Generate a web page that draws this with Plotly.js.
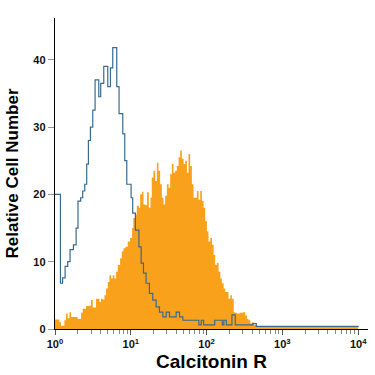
<!DOCTYPE html>
<html>
<head>
<meta charset="utf-8">
<script src="https://cdn.plot.ly/plotly-3.0.1.min.js"></script>
<style>html,body{margin:0;padding:0;background:#fff;}#chart{width:375px;height:375px;}</style>
</head>
<body>
<div id="chart"></div>
<script>
// Calcitonin R stained cells (filled orange histogram)
var stainedX = [1.00,1.14,1.20,1.33,1.40,1.47,1.55,1.63,1.80,1.99,2.21,2.32,2.57,2.84,2.99,3.15,3.48,3.85,4.05,4.27,4.49,4.72,4.97,5.23,5.50,5.78,6.08,6.40,6.73,7.23,7.60,8.00,8.50,9.13,9.80,10.4,10.8,11.4,12.0,12.8,13.3,14.1,14.7,15.6,16.4,17.3,18.2,18.9,19.9,21.0,22.1,23.2,24.4,25.7,27.0,28.4,29.9,31.5,33.1,34.8,36.6,38.5,40.5,42.7,44.9,47.2,49.7,52.3,55.0,57.8,60.8,64.0,67.3,70.8,74.5,78.4,82.5,86.8,91.3,96.0,101,106,112,118,124,130,137,144,152,159,168,176,186,195,206,216,228,239,252,273,302,324,341,359,378,397,418,453,10000];
var stainedY = [1.4,1.0,0.5,1.3,2.3,1.6,2.5,1.8,1.8,1.5,2.4,3.0,3.4,3.5,4.3,3.2,4.5,4.0,4.5,4.4,5.0,6.0,7.0,8.0,7.5,8.0,7.5,8.5,9.5,10.5,11.5,12.0,12.2,13.0,13.5,15.0,16.5,17.0,18.3,18.0,20.0,20.4,18.5,18.4,20.3,18.0,19.5,22.5,23.5,22.0,24.7,23.5,21.5,19.5,18.5,19.8,21.5,21.0,23.0,24.5,23.2,23.5,24.2,25.5,26.5,25.3,24.5,25.0,23.2,26.0,24.2,21.5,19.5,19.5,20.5,19.2,20.5,19.0,18.0,16.0,14.5,13.0,13.5,12.5,11.0,9.5,9.8,8.5,7.5,6.8,6.0,5.5,5.5,4.5,5.0,4.5,2.5,2.4,2.3,2.4,2.5,2.0,1.5,1.3,0.8,1.0,0.6,0.4,0.4];
// Isotype control (open blue histogram)
var isotypeX = [1.00,1.18,1.26,1.36,1.47,1.58,1.75,1.90,2.01,2.18,2.32,2.47,2.62,2.76,2.93,3.15,3.38,3.78,4.01,4.40,4.97,5.39,5.78,6.53,7.00,7.84,8.33,8.85,10.1,10.6,11.5,12.8,13.7,14.7,15.9,17.6,19.5,21.6,23.9,26.5,29.3,32.4,39.7,44.0,48.7,66.0,79.2,85.0,91.3,128,161,169,182,216,239,409,453,10000];
var isotypeY = [20.0,6.8,7.6,9.3,10.0,11.8,12.5,15.0,19.0,19.5,20.5,21.5,24.5,28.0,30.0,32.5,37.0,34.5,36.5,39.0,36.0,38.8,41.8,36.0,32.0,29.0,25.0,21.5,19.5,17.2,14.7,12.2,9.8,8.3,6.8,5.3,4.3,3.3,2.5,1.8,2.5,1.8,2.5,1.8,1.3,1.3,0.6,1.3,0.6,1.3,0.6,1.3,0.6,2.1,0.6,0.8,0.4,0.3];
var yTicks = [0,10,20,30,40];
var xTickVals = [1,10,100,1000,10000];
var xTickText = ["10<sup>0</sup>","10<sup>1</sup>","10<sup>2</sup>","10<sup>3</sup>","10<sup>4</sup>"];
var xMinorTicks = [2,3,4,5,6,7,8,9,20,30,40,50,60,70,80,90,200,300,400,500,600,700,800,900,2000,3000,4000,5000,6000,7000,8000,9000];
var xTitle = "Calcitonin R";
var yTitle = "Relative Cell Number";

var tickFont = {family:"Liberation Sans, Arial, sans-serif", size:11, color:"#111", weight:"bold"};
var traces = [
  {x: stainedX, y: stainedY, type:"scatter", mode:"lines", line:{shape:"hv", width:0, color:"#F9A11B"},
   fill:"tozeroy", fillcolor:"#F9A11B", hoverinfo:"skip"},
  {x: isotypeX, y: isotypeY, type:"scatter", mode:"lines", line:{shape:"hv", width:1.2, color:"#3b6a8e"}, hoverinfo:"skip"}
];
var layout = {
  width:375, height:375,
  margin:{l:55, r:7, t:18, b:46},
  paper_bgcolor:"#fff", plot_bgcolor:"#fff",
  showlegend:false,
  xaxis:{type:"log", range:[0,4.13], tickvals:xTickVals, ticktext:xTickText,
    showline:true, linecolor:"#000", linewidth:1.2, showgrid:false, zeroline:false,
    ticks:"outside", ticklen:5, tickcolor:"#555", tickfont:tickFont,
    minor:{tickvals:xMinorTicks, ticks:"outside", ticklen:4, tickcolor:"#888", showgrid:false},
    title:{text:xTitle, font:{family:"Liberation Sans, Arial, sans-serif", size:19, color:"#000", weight:"bold"}, standoff:5}},
  yaxis:{range:[0,46.2], tickvals:yTicks, showline:true, linecolor:"#000", linewidth:1.2,
    showgrid:false, zeroline:false, ticks:"outside", ticklen:6, tickcolor:"#999", tickfont:tickFont,
    title:{text:yTitle, font:{family:"Liberation Sans, Arial, sans-serif", size:17, color:"#000", weight:"bold"}, standoff:10}}
};
Plotly.newPlot("chart", traces, layout, {staticPlot:true, displayModeBar:false});
</script>
</body>
</html>
